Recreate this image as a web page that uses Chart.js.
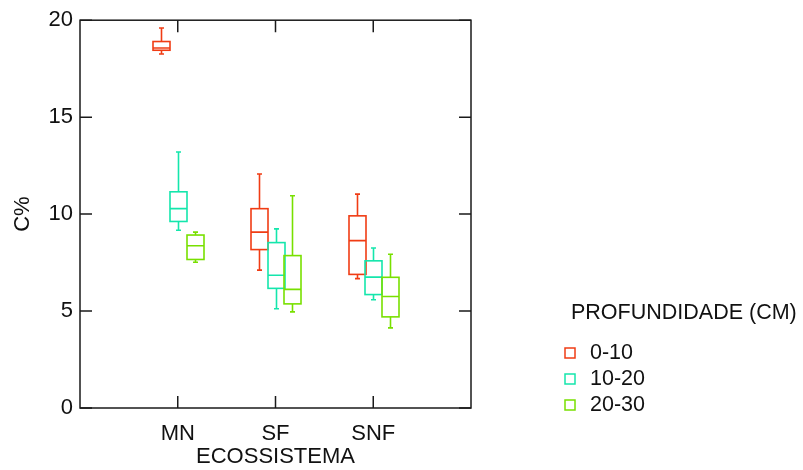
<!DOCTYPE html>
<html>
<head>
<meta charset="utf-8">
<script src="https://cdn.jsdelivr.net/npm/chart.js@4.4.1/dist/chart.umd.min.js"></script>
<style>
  html, body { margin: 0; padding: 0; background: #fff; }
  #wrap { width: 803px; height: 470px; }
</style>
</head>
<body>
<div id="wrap"><canvas id="boxChart"></canvas></div>
<script>
// categories (x positions 1..3 on a 0..4 axis)
const ecossistemas = ['MN', 'SF', 'SNF'];
const profundidades = ['0-10', '10-20', '20-30'];
const cores = ['#f03c14', '#14e6ac', '#78e000'];
const yTicks = [0, 5, 10, 15, 20];

// box stats per depth, one entry per ecossistema
const min0_10 = [18.26, 7.11, 6.67];
const q1_0_10 = [18.45, 8.17, 6.89];
const med0_10 = [18.57, 9.07, 8.63];
const q3_0_10 = [18.90, 10.28, 9.91];
const max0_10 = [19.60, 12.07, 11.03];

const min10_20 = [9.17, 5.12, 5.58];
const q1_10_20 = [9.62, 6.17, 5.85];
const med10_20 = [10.28, 6.85, 6.75];
const q3_10_20 = [11.15, 8.53, 7.59];
const max10_20 = [13.20, 9.24, 8.25];

const min20_30 = [7.52, 4.96, 4.13];
const q1_20_30 = [7.66, 5.37, 4.70];
const med20_30 = [8.37, 6.12, 5.75];
const q3_20_30 = [8.92, 7.86, 6.74];
const max20_30 = [9.07, 10.95, 7.93];

const stats = [
    { min: min0_10, q1: q1_0_10, med: med0_10, q3: q3_0_10, max: max0_10 },
    { min: min10_20, q1: q1_10_20, med: med10_20, q3: q3_10_20, max: max10_20 },
    { min: min20_30, q1: q1_20_30, med: med20_30, q3: q3_20_30, max: max20_30 }
];

const groupOffset = [-0.167, 0, 0.172];   // x-units, per depth
const boxHalf = 8.5;                        // px
const capHalf = 2.5;                        // px
const fontFamily = 'Arial, "Liberation Sans", sans-serif';

const boxPlugin = {
    id: 'boxPlugin',
    afterDatasetsDraw(chart) {
        const ctx = chart.ctx;
        const xs = chart.scales.x;
        const ys = chart.scales.y;
        ctx.save();
        ctx.lineWidth = 1.6;
        stats.forEach(function (s, d) {
            ctx.strokeStyle = cores[d];
            ecossistemas.forEach(function (cat, i) {
                const cx = Math.round(xs.getPixelForValue(i + 1 + groupOffset[d])) + 0.5;
                const yMin = ys.getPixelForValue(s.min[i]);
                const yQ1 = ys.getPixelForValue(s.q1[i]);
                const yMed = ys.getPixelForValue(s.med[i]);
                const yQ3 = ys.getPixelForValue(s.q3[i]);
                const yMax = ys.getPixelForValue(s.max[i]);
                ctx.beginPath();
                // whiskers
                ctx.moveTo(cx, yQ3); ctx.lineTo(cx, yMax);
                ctx.moveTo(cx, yQ1); ctx.lineTo(cx, yMin);
                // caps
                ctx.moveTo(cx - capHalf, yMax); ctx.lineTo(cx + capHalf, yMax);
                ctx.moveTo(cx - capHalf, yMin); ctx.lineTo(cx + capHalf, yMin);
                // median
                ctx.moveTo(cx - boxHalf, yMed); ctx.lineTo(cx + boxHalf, yMed);
                ctx.stroke();
                ctx.strokeRect(cx - boxHalf, yQ3, boxHalf * 2, yQ1 - yQ3);
            });
        });
        ctx.restore();
    },
    afterDraw(chart) {
        const ctx = chart.ctx;
        const a = chart.chartArea;
        const xs = chart.scales.x;
        const ys = chart.scales.y;
        const tick = 12;
        ctx.save();
        ctx.strokeStyle = '#1a1a1a';
        ctx.lineWidth = 1.5;
        ctx.strokeRect(a.left, a.top, a.right - a.left, a.bottom - a.top);
        ctx.beginPath();
        yTicks.forEach(function (v) {
            const y = ys.getPixelForValue(v);
            ctx.moveTo(a.left, y); ctx.lineTo(a.left + tick, y);
            ctx.moveTo(a.right, y); ctx.lineTo(a.right - tick, y);
        });
        ecossistemas.forEach(function (c, i) {
            const x = xs.getPixelForValue(i + 1);
            ctx.moveTo(x, a.bottom); ctx.lineTo(x, a.bottom - tick);
            ctx.moveTo(x, a.top); ctx.lineTo(x, a.top + tick);
        });
        ctx.stroke();

        // legend
        const lx = 571, ty = 313;
        ctx.fillStyle = '#111';
        ctx.font = '21.5px ' + fontFamily;
        ctx.textBaseline = 'middle';
        ctx.textAlign = 'left';
        ctx.fillText('PROFUNDIDADE (CM)', lx, ty);
        ctx.lineWidth = 1.5;
        chart.data.datasets.forEach(function (ds, d) {
            const y = 353 + d * 26;
            ctx.strokeStyle = cores[d];
            ctx.strokeRect(565, y - 5, 10, 10);
            ctx.fillStyle = '#111';
            ctx.fillText(ds.label, 590, y);
        });
        ctx.restore();
    }
};

const datasets = profundidades.map(function (p, d) {
    return {
        label: p,
        data: ecossistemas.map(function (c, i) {
            return { x: i + 1 + groupOffset[d], y: stats[d].med[i] };
        }),
        pointRadius: 0,
        borderColor: cores[d],
        backgroundColor: cores[d],
        showLine: false
    };
});

new Chart(document.querySelector('#boxChart'), {
    type: 'scatter',
    data: { datasets: datasets },
    plugins: [boxPlugin],
    options: {
        responsive: true,
        maintainAspectRatio: false,
        animation: false,
        layout: { padding: { left: 0, right: 332, top: 17, bottom: 0 } },
        plugins: {
            legend: { display: false },
            tooltip: { enabled: false }
        },
        scales: {
            x: {
                type: 'linear',
                min: 0,
                max: 4,
                afterFit: function (s) { s.height = 62; },
                afterBuildTicks: function (s) {
                    s.ticks = ecossistemas.map(function (c, i) { return { value: i + 1 }; });
                },
                grid: { display: false, drawTicks: false },
                border: { display: false },
                ticks: {
                    padding: 13,
                    color: '#111',
                    font: { family: fontFamily, size: 22 },
                    maxRotation: 0,
                    autoSkip: false,
                    callback: function (v) { return ecossistemas[v - 1] || ''; }
                },
                title: {
                    display: true,
                    text: 'ECOSSISTEMA',
                    color: '#111',
                    font: { family: fontFamily, size: 22 },
                    padding: { top: 1, bottom: 0 }
                }
            },
            y: {
                min: 0,
                max: 20,
                afterFit: function (s) { s.width = 80; },
                afterBuildTicks: function (s) {
                    s.ticks = yTicks.map(function (v) { return { value: v }; });
                },
                grid: { display: false, drawTicks: false },
                border: { display: false },
                ticks: {
                    padding: 7,
                    color: '#111',
                    font: { family: fontFamily, size: 22 }
                },
                title: {
                    display: true,
                    text: 'C%',
                    color: '#111',
                    font: { family: fontFamily, size: 22 },
                    padding: { top: 10, bottom: 0 }
                }
            }
        }
    }
});
</script>
</body>
</html>
